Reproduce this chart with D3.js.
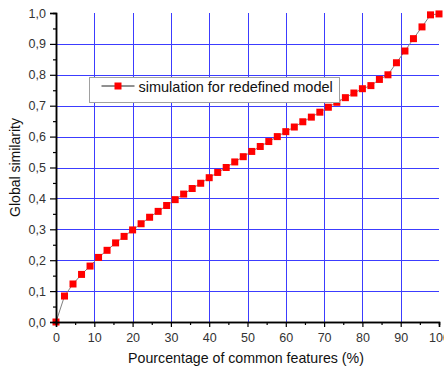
<!DOCTYPE html>
<html>
<head>
<meta charset="utf-8">
<script src="https://cdn.jsdelivr.net/npm/d3@7"></script>
<style>
  html, body { margin: 0; padding: 0; background: #fff; }
  svg { display: block; font-family: "Liberation Sans", Arial, sans-serif; }
</style>
</head>
<body>
<svg id="chart" width="444" height="369"></svg>
<script>
// percentage of common features
const xValues = [0, 2.22, 4.44, 6.67, 8.89, 11.11, 13.33, 15.56, 17.78, 20,
  22.22, 24.44, 26.67, 28.89, 31.11, 33.33, 35.56, 37.78, 40, 42.22,
  44.44, 46.67, 48.89, 51.11, 53.33, 55.56, 57.78, 60, 62.22, 64.44,
  66.67, 68.89, 71.11, 73.33, 75.56, 77.78, 80, 82.22, 84.44, 86.67,
  88.89, 91.11, 93.33, 95.56, 97.78, 100];
// global similarity, simulation for redefined model
const similarity = [0, 0.084, 0.123, 0.154, 0.181, 0.209, 0.232, 0.256, 0.277, 0.298,
  0.318, 0.339, 0.358, 0.377, 0.396, 0.414, 0.432, 0.449, 0.467, 0.484,
  0.500, 0.518, 0.535, 0.552, 0.568, 0.584, 0.600, 0.616, 0.631, 0.648,
  0.663, 0.679, 0.695, 0.711, 0.726, 0.741, 0.755, 0.765, 0.785, 0.800,
  0.839, 0.877, 0.917, 0.955, 0.994, 0.997];
const xTicks = [0, 10, 20, 30, 40, 50, 60, 70, 80, 90, 100];
const yTicks = [0, 0.1, 0.2, 0.3, 0.4, 0.5, 0.6, 0.7, 0.8, 0.9, 1.0];
const seriesName = "simulation for redefined model";

const margin = { top: 13, right: 5, bottom: 47, left: 56 };
const width = 444, height = 369;
const svg = d3.select("#chart");

const x = d3.scaleLinear().domain([0, 100]).range([margin.left, 439]);
const y = d3.scaleLinear().domain([0, 1]).range([height - margin.bottom, margin.top]);
const fmt = d => d3.format(".1f")(d).replace(".", ",");

// grid
const grid = svg.append("g").attr("shape-rendering", "crispEdges");
grid.selectAll(".vg").data(xTicks.slice(1, -1)).enter().append("line")
  .attr("x1", d => Math.round(x(d)) + 0.5).attr("x2", d => Math.round(x(d)) + 0.5)
  .attr("y1", y(1)).attr("y2", y(0))
  .attr("stroke", "#3c3cff").attr("stroke-width", 1);
grid.selectAll(".hg").data(yTicks.slice(1, -1)).enter().append("line")
  .attr("y1", d => Math.round(y(d)) + 0.5).attr("y2", d => Math.round(y(d)) + 0.5)
  .attr("x1", x(0)).attr("x2", x(100))
  .attr("stroke", "#3c3cff").attr("stroke-width", 1);

// series
svg.append("path")
  .datum(xValues.map((v, i) => [v, similarity[i]]))
  .attr("fill", "none")
  .attr("stroke", "#808080")
  .attr("stroke-width", 1)
  .attr("d", d3.line().x(d => x(d[0])).y(d => y(d[1])));

svg.append("g").selectAll("rect")
  .data(xValues.map((v, i) => [v, similarity[i]]))
  .enter().append("rect")
  .attr("x", d => x(d[0]) - 3.5).attr("y", d => y(d[1]) - 3.5)
  .attr("width", 7).attr("height", 7)
  .attr("fill", "#ff0000");

// axes
const xAxis = d3.axisBottom(x).tickValues(xTicks).tickSize(5).tickPadding(6).tickFormat(d3.format("d"));
const xMinor = d3.axisBottom(x).tickValues(d3.range(5, 100, 10)).tickSize(3).tickFormat("");
const yAxis = d3.axisLeft(y).tickValues(yTicks).tickSize(6).tickPadding(4).tickFormat(fmt);
const yMinor = d3.axisLeft(y).tickValues(d3.range(0.05, 1, 0.1)).tickSize(3).tickFormat("");

function styleAxis(g) {
  g.select(".domain").attr("stroke", "#000").attr("stroke-width", 1.5);
  g.selectAll(".tick line").attr("stroke", "#000").attr("stroke-width", 1.2);
  g.selectAll("text").attr("fill", "#333").attr("font-size", 12.5)
    .attr("font-family", "'Liberation Sans', Arial, sans-serif");
}

svg.append("g").attr("transform", `translate(0,${y(0)})`).call(xMinor).call(styleAxis);
svg.append("g").attr("transform", `translate(0,${y(0)})`).call(xAxis).call(styleAxis);
svg.append("g").attr("transform", `translate(${x(0)},0)`).call(yMinor).call(styleAxis);
svg.append("g").attr("transform", `translate(${x(0)},0)`).call(yAxis).call(styleAxis);

// axis titles
svg.append("text")
  .attr("x", 246).attr("y", 363)
  .attr("text-anchor", "middle").attr("font-size", 14.2).attr("fill", "#111")
  .text("Pourcentage of common features (%)");
svg.append("text")
  .attr("transform", `translate(20,${(y(0) + y(1)) / 2}) rotate(-90)`)
  .attr("text-anchor", "middle").attr("font-size", 14).attr("fill", "#111")
  .text("Global similarity");

// legend
const lg = svg.append("g").attr("transform", "translate(89.5,77.5)");
lg.append("rect").attr("width", 250).attr("height", 25)
  .attr("fill", "#fff").attr("stroke", "#a0a0a0").attr("stroke-width", 1);
lg.append("line").attr("x1", 12).attr("x2", 45).attr("y1", 8.5).attr("y2", 8.5)
  .attr("stroke", "#222").attr("stroke-width", 1);
lg.append("rect").attr("x", 25).attr("y", 5).attr("width", 7).attr("height", 7).attr("fill", "#ff0000");
lg.append("text").attr("x", 49).attr("y", 14)
  .attr("font-size", 14.5).attr("fill", "#111").text(seriesName);
</script>
</body>
</html>
